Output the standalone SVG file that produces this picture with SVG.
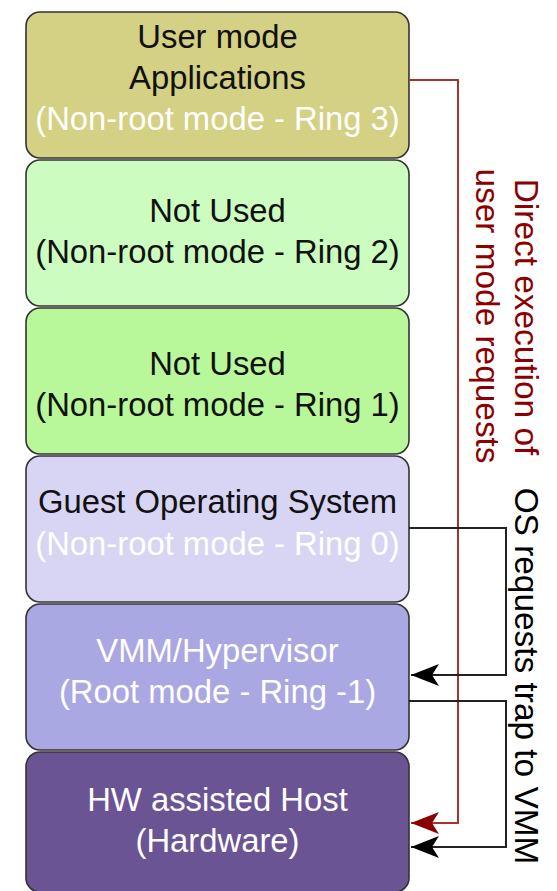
<svg xmlns="http://www.w3.org/2000/svg" width="557" height="891" viewBox="0 0 557 891">
<style>
.box{stroke:#333;stroke-width:1.6}
.t{font-family:"Liberation Sans",Arial,sans-serif;font-size:32.8px;text-anchor:middle}
.dk{fill:#111}
.wh{fill:#fff}
.lbl{font-family:"Liberation Sans",Arial,sans-serif;font-size:33.4px;text-anchor:middle}
</style>
<defs>
<marker id="ar" markerUnits="userSpaceOnUse" markerWidth="30" markerHeight="24" viewBox="0 -12 30 24" refX="28" refY="0" orient="auto">
<path d="M0,-11 L28,0 L0,11 L7,0 Z" fill="#8b0000"/>
</marker>
<marker id="ab" markerUnits="userSpaceOnUse" markerWidth="30" markerHeight="24" viewBox="0 -12 30 24" refX="28" refY="0" orient="auto">
<path d="M0,-11 L28,0 L0,11 L7,0 Z" fill="#000"/>
</marker>
</defs>
<rect width="557" height="891" fill="#fff"/>
<g id="ring3">
<rect class="box" x="26" y="12" width="383" height="146" rx="14" fill="#d4d084"/>
<text class="t dk" x="217.5" y="48">User mode</text>
<text class="t dk" x="217.5" y="89">Applications</text>
<text class="t wh" x="217.5" y="130">(Non-root mode - Ring 3)</text>
</g>
<g id="ring2">
<rect class="box" x="26" y="160" width="383" height="146" rx="14" fill="#ccfcc0"/>
<text class="t dk" x="217.5" y="222">Not Used</text>
<text class="t dk" x="217.5" y="263">(Non-root mode - Ring 2)</text>
</g>
<g id="ring1">
<rect class="box" x="26" y="308" width="383" height="146" rx="14" fill="#b9f79b"/>
<text class="t dk" x="217.5" y="375">Not Used</text>
<text class="t dk" x="217.5" y="416">(Non-root mode - Ring 1)</text>
</g>
<g id="ring0">
<rect class="box" x="26" y="456" width="383" height="146" rx="14" fill="#d8d4f4"/>
<text class="t dk" x="217.5" y="513">Guest Operating System</text>
<text class="t wh" x="217.5" y="555">(Non-root mode - Ring 0)</text>
</g>
<g id="vmm">
<rect class="box" x="26" y="604" width="383" height="146" rx="14" fill="#aaa8e2"/>
<text class="t wh" x="217.5" y="662">VMM/Hypervisor</text>
<text class="t wh" x="217.5" y="703">(Root mode - Ring -1)</text>
</g>
<g id="hw">
<rect class="box" x="26" y="752" width="383" height="140" rx="14" fill="#6a5494"/>
<text class="t wh" x="217.5" y="811">HW assisted Host</text>
<text class="t wh" x="217.5" y="852">(Hardware)</text>
</g>
<g id="connectors" fill="none" stroke-width="2">
<polyline points="409,80 458,80 458,823 411,823" stroke="#a83232" marker-end="url(#ar)"/>
<polyline points="409,528 506,528 506,675 411,675" stroke="#222" marker-end="url(#ab)"/>
<polyline points="409,701 506,701 506,847 411,847" stroke="#222" marker-end="url(#ab)"/>
</g>
<g id="labels">
<text class="lbl" fill="#8b0000" transform="translate(515,317) rotate(90)">Direct execution of</text>
<text class="lbl" fill="#8b0000" transform="translate(476,316) rotate(90)">user mode requests</text>
<text class="lbl" fill="#000" transform="translate(515,676) rotate(90)">OS requests trap to VMM</text>
</g>
</svg>
